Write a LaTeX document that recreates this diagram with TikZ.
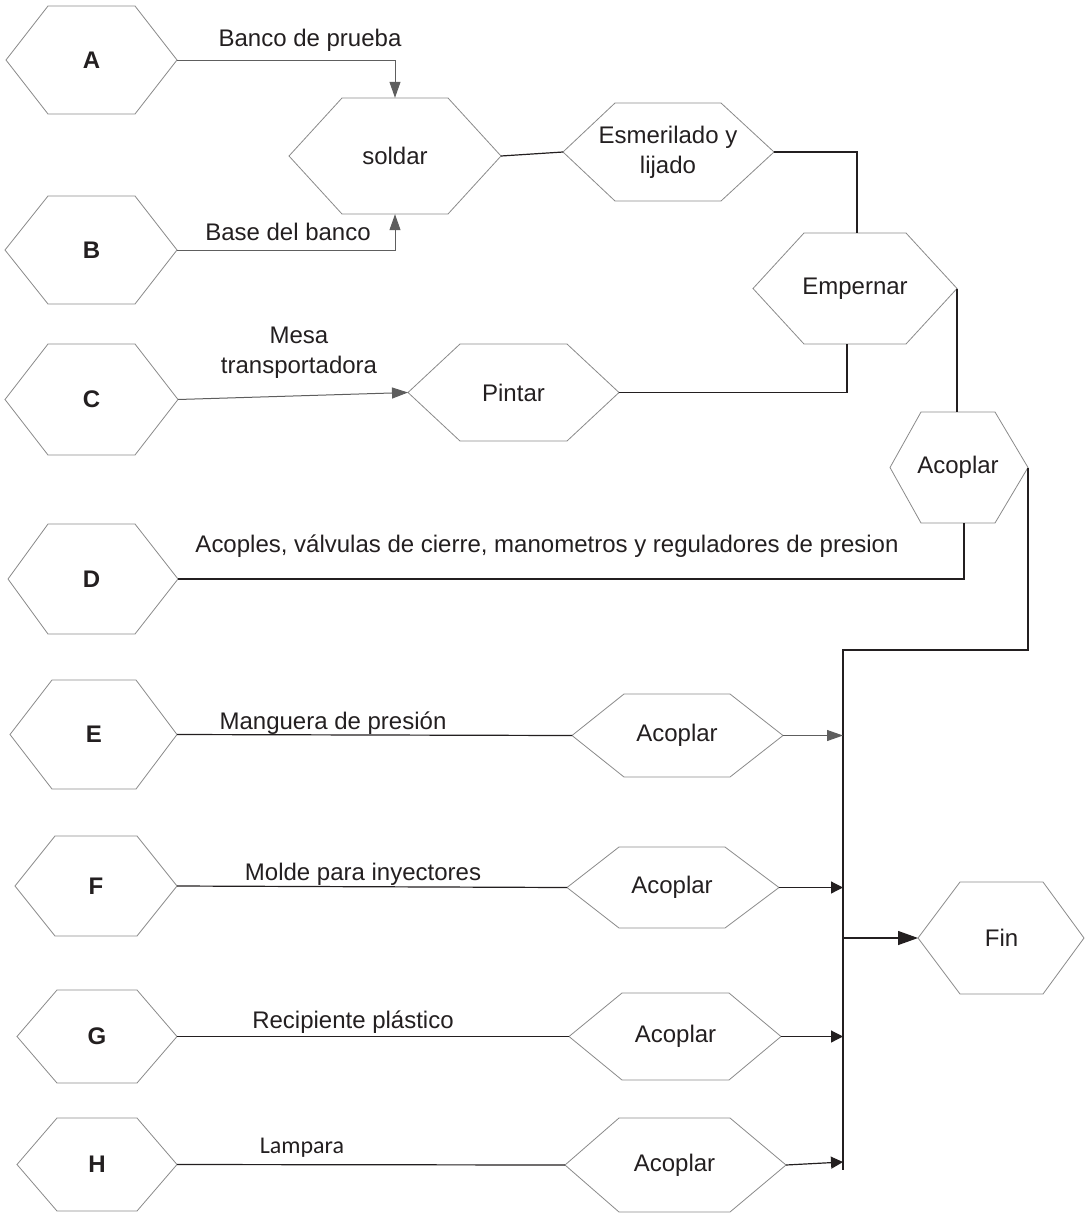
\documentclass[tikz,border=0pt]{standalone}
\usepackage{fontspec}
\setmainfont{Liberation Sans}
\newfontfamily\calib{Carlito}
\usetikzlibrary{arrows.meta}

\definecolor{ink}{HTML}{231F20}
\definecolor{hexedge}{HTML}{8A8A8A}
\definecolor{greyline}{HTML}{5E5E5E}

% hexagon: name, left tip x, top-left x, top-right x, right tip x, top y, bottom y, text
\newcommand{\hexshape}[8]{%
  \pgfmathsetmacro{\hcy}{(#6+#7)/2}%
  \pgfmathsetmacro{\hcx}{(#3+#4)/2}%
  \pgfmathsetmacro{\hw}{#4-#3}%
  \pgfmathsetmacro{\hh}{#7-#6}%
  \draw[hexline] (#2,\hcy) -- (#3,#6) -- (#4,#6) -- (#5,\hcy) -- (#4,#7) -- (#3,#7) -- cycle;
  \node[hexbox, minimum width=\hw pt, minimum height=\hh pt] (#1) at (\hcx,\hcy) {#8};
  \coordinate (#1-w) at (#2,\hcy);
  \coordinate (#1-e) at (#5,\hcy);
}

\begin{document}
\begin{tikzpicture}[x=1pt,y=-1pt,
    every node/.style={text=ink, font=\fontsize{24}{30}\selectfont},
    hexline/.style={draw=hexedge, line width=0.8pt, line join=miter},
    hexbox/.style={inner sep=0pt, align=center},
    lbl/.style={inner sep=0pt, anchor=base},
    conn/.style={draw=ink, line width=1.2pt},
    gconn/.style={draw=greyline, line width=1pt},
    gtip/.style={-{Triangle[length=16pt,width=11pt]}, greyline},
    btip/.style={-{Triangle[length=12pt,width=12pt]}},
    fintip/.style={-{Triangle[length=20pt,width=14pt]}}]

\useasboundingbox (0,0) rectangle (1085,1213);

% source hexagons
\hexshape{A}{6}{48}{135}{177}{6}{114}{\textbf{A}}
\hexshape{B}{5}{48}{135}{177}{196}{304}{\textbf{B}}
\hexshape{C}{5}{48}{135}{178}{344}{455}{\textbf{C}}
\hexshape{D}{8}{48}{135}{178}{524}{634}{\textbf{D}}
\hexshape{E}{10}{52}{136}{177}{680}{789}{\textbf{E}}
\hexshape{F}{15}{55}{137}{177}{836}{936}{\textbf{F}}
\hexshape{G}{17}{57}{137}{177}{990}{1083}{\textbf{G}}
\hexshape{H}{17}{57}{137}{177}{1118}{1211}{\textbf{H}}

% process hexagons
\hexshape{sol}{289}{342}{448}{501}{98}{214}{soldar}
\hexshape{esm}{563}{615}{721}{774}{103}{201}{Esmerilado y\\lijado}
\hexshape{emp}{753}{804}{906}{957}{233}{344}{Empernar}
\hexshape{pin}{408}{460}{567}{619}{344}{441}{Pintar}
\hexshape{acu}{890}{921}{995}{1028}{412}{523}{Acoplar}
\hexshape{acE}{572}{624}{730}{783}{694}{777}{Acoplar}
\hexshape{acF}{567}{619}{725}{779}{847}{928}{Acoplar}
\hexshape{acG}{569}{622}{729}{781}{993}{1080}{Acoplar}
\hexshape{acH}{565}{619}{730}{786}{1118}{1212}{Acoplar}
\hexshape{fin}{918}{960}{1043}{1084}{882}{994}{Fin}

% connector labels
\node[lbl] (lA) at (310,46.7) {Banco de prueba};
\node[lbl] (lB) at (288,240.7) {Base del banco};
\node[lbl] (lC1) at (299,343) {Mesa};
\node[lbl] (lC2) at (299,373) {transportadora};
\node[lbl] (lD) at (547,552) {Acoples, válvulas de cierre, manometros y reguladores de presion};
\node[lbl] (lE) at (333,729) {Manguera de presión};
\node[lbl] (lF) at (363,880) {Molde para inyectores};
\node[lbl] (lG) at (353,1028.5) {Recipiente plástico};
\node[lbl, font=\calib\fontsize{24}{30}\selectfont] (lH) at (302,1153.5) {Lampara};

% upper branch
\draw[gconn, gtip] (A-e) -| (sol.north);
\draw[gconn, gtip] (B-e) -| (sol.south);
\draw[conn] (sol-e) -- (esm-w);
\draw[conn] (esm-e) -| ([xshift=2pt]emp.north);
\draw[gconn, gtip] (C-e) -- (pin-w);
\draw[conn] (pin-e) -| ([xshift=-8pt]emp.south);
\draw[conn] (emp-e) -- (emp-e |- acu.north);
\draw[conn] (D-e) -| ([xshift=6pt]acu.south);

% collecting bus
\coordinate (bustop) at (843,650);
\coordinate (busbot) at (843,1170);
\draw[conn] (acu-e) |- (bustop) -- (busbot);

% lower branches
\draw[conn] (E-e) -- (acE-w);
\draw[conn] (F-e) -- (acF-w);
\draw[conn] (G-e) -- (acG-w);
\draw[conn] (H-e) -- (acH-w);
\draw[gconn, gtip] (acE-e) -- (acE-e -| bustop);
\draw[conn, btip] (acF-e) -- (acF-e -| bustop);
\draw[conn, btip] (acG-e) -- (acG-e -| bustop);
\draw[conn, btip] (acH-e) -- ([yshift=3pt]acH-e -| bustop);
\draw[conn, fintip] (bustop |- fin-w) -- (fin-w);

\end{tikzpicture}
\end{document}
